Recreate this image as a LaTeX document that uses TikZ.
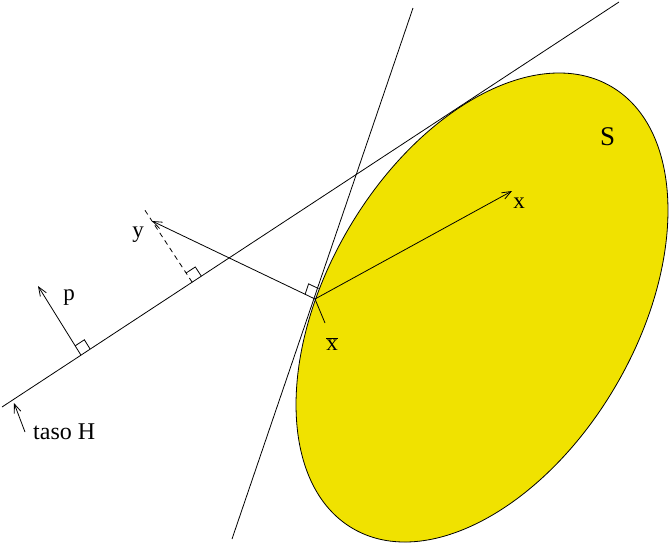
\documentclass[tikz,border=0pt]{standalone}
\usepackage{fontspec}
\setmainfont{Liberation Serif}
\usetikzlibrary{calc,arrows.meta}
\definecolor{sfill}{RGB}{240,226,0}
\begin{document}
\begin{tikzpicture}[x=1pt,y=-1pt,
  ln/.style={line width=0.8pt},
  arr/.style={ln,-{Straight Barb[length=9pt,width=7pt]}},
  lbl/.style={inner sep=0pt,font=\fontsize{23}{27}\selectfont}]
\useasboundingbox (0,0) rectangle (669,544);
% the set S
\begin{scope}[shift={(482,307.5)},rotate=59.7]
\draw[ln,fill=sfill] (0,0) ellipse[x radius=256pt,y radius=155pt];
\end{scope}
% points
\coordinate (Hs) at (2,407);
\coordinate (He) at (619,2);
\coordinate (Ss) at (232,539);
\coordinate (Se) at (413,8);
\coordinate (xb) at (315,299);
\coordinate (xtip) at (512,191);
\coordinate (ytip) at (152,221);
\coordinate (yfoot) at ($(Hs)!(ytip)!(He)$);
\coordinate (yext) at ($(yfoot)!1.19!(ytip)$);
\coordinate (pfoot) at ($(Hs)!0.128!(He)$);
\coordinate (ptip) at (38,286);
\coordinate (tH1) at (25,432);
\coordinate (tH2) at (14,403);
\coordinate (lead) at (325,323);
% lines
\draw[ln] (Hs) -- (He);
\draw[ln] (Ss) -- (Se);
\draw[arr] (xb) -- (xtip);
\draw[arr] (xb) -- (ytip);
\draw[ln,dash pattern=on 5pt off 4pt] (yfoot) -- (yext);
\draw[arr] (pfoot) -- (ptip);
\draw[arr] (tH1) -- (tH2);
\draw[ln] (xb) -- (lead);
% right angle marks
\coordinate (a1) at ($(xb)!11pt!(ytip)$);
\coordinate (a2) at ($(xb)!11pt!(Se)$);
\draw[ln] (a1) -- ($(a1)+(a2)-(xb)$) -- (a2);
\coordinate (b1) at ($(yfoot)!11pt!(ytip)$);
\coordinate (b2) at ($(yfoot)!11pt!(He)$);
\draw[ln] (b1) -- ($(b1)+(b2)-(yfoot)$) -- (b2);
\coordinate (c1) at ($(pfoot)!11pt!(ptip)$);
\coordinate (c2) at ($(pfoot)!11pt!(He)$);
\draw[ln] (c1) -- ($(c1)+(c2)-(pfoot)$) -- (c2);
% labels
\node[lbl,font=\fontsize{27}{30}\selectfont] (lS) at (607.5,136.5) {S};
\node[lbl] (lx) at (519,203) {x};
\node[lbl] (ly) at (138,235) {y};
\node[lbl] (lp) at (69,298) {p};
\node[lbl,anchor=base] (lxb) at (332,350) {$\overline{\hbox{x}}$};
\node[lbl,anchor=base west,font=\fontsize{24}{28}\selectfont] (lH) at (33,439) {taso H};
\end{tikzpicture}
\end{document}
